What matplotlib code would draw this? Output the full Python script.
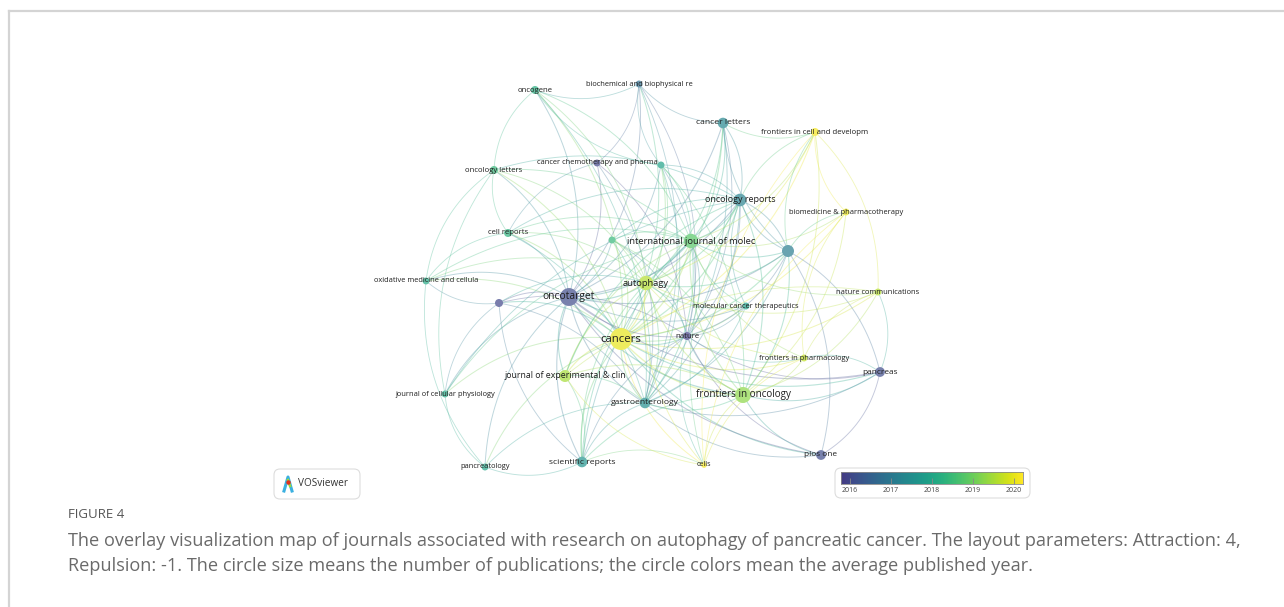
import numpy as np
import matplotlib
matplotlib.use('Agg')
import matplotlib.pyplot as plt
from matplotlib.colors import LinearSegmentedColormap, Normalize
from matplotlib.patches import Circle, FancyBboxPatch

plt.rcParams['font.family'] = ['Open Sans', 'DejaVu Sans']

#journal names (blank = label hidden by VOSviewer)
labels = ['oncogene', 'biochemical and biophysical re', 'cancer letters',
          'frontiers in cell and developm', 'cancer chemotherapy and pharma', '',
          'oncology letters', 'oncology reports', 'biomedicine & pharmacotherapy',
          'cell reports', '', 'international journal of molec', '',
          'oxidative medicine and cellula', 'autophagy', 'nature communications', '',
          'oncotarget', 'molecular cancer therapeutics', 'cancers', 'nature',
          'frontiers in pharmacology', 'pancreas', 'journal of experimental & clin',
          'journal of cellular physiology', 'frontiers in oncology', 'gastroenterology',
          'pancreatology', 'scientific reports', 'cells', 'plos one']

#layout coordinates from the map
node_x = [535, 639, 723, 815, 597, 661, 494, 740, 846, 508, 612, 691, 788, 426, 646, 878,
          499, 569, 746, 621, 687, 804, 880, 565, 445, 743, 645, 485, 582, 704, 821]
node_y = [90, 84, 123, 132, 163, 165, 170, 200, 212, 233, 240, 241, 251, 281, 283, 292,
          303, 297, 306, 339, 336, 358, 372, 376, 394, 395, 403, 467, 462, 465, 455]

#number of publications
pubs = [4, 3, 7, 4, 3, 3, 4, 10, 3, 4, 3, 13, 9, 3, 13, 3,
        4, 20, 3, 30, 4, 3, 6, 9, 3, 16, 7, 3, 7, 2, 6]

#average publication year
avg_year = [2018.2, 2016.8, 2017.3, 2020.1, 2016.0, 2017.9, 2018.4, 2017.2, 2020.0,
            2018.3, 2018.4, 2018.8, 2017.1, 2018.1, 2019.6, 2019.6, 2016.0, 2016.1,
            2017.9, 2020.0, 2015.9, 2019.7, 2016.1, 2019.5, 2018.1, 2019.3, 2017.5,
            2018.0, 2017.6, 2020.1, 2016.1]

#co-citation links (node index pairs)
hub_links = {
    19: [0, 1, 2, 3, 5, 6, 7, 8, 9, 10, 11, 12, 13, 14, 15, 16, 17, 18, 20, 21, 22, 23,
         24, 25, 26, 27, 28, 29, 30],
    17: [0, 1, 2, 4, 5, 6, 7, 9, 10, 11, 12, 13, 14, 16, 18, 20, 22, 23, 24, 25, 26, 27,
         28, 30],
    20: [1, 2, 4, 5, 7, 10, 11, 12, 14, 16, 18, 21, 22, 25, 26, 28, 29, 30],
    26: [0, 1, 2, 4, 5, 7, 9, 10, 11, 12, 14, 16, 18, 22, 23, 25, 27, 28, 30],
    14: [0, 2, 3, 5, 6, 7, 9, 10, 11, 12, 13, 15, 16, 18, 21, 23, 25, 28, 29],
    11: [0, 2, 3, 5, 6, 7, 8, 9, 10, 12, 13, 15, 18, 21, 23, 24, 25, 28],
    25: [3, 5, 7, 8, 10, 12, 15, 21, 22, 23, 28, 29, 30],
    7: [2, 5, 6, 9, 10, 12, 18, 23, 24, 28, 29],
}
extra_links = [(30, 22), (30, 12), (22, 12), (22, 21), (22, 15), (3, 8), (3, 29), (8, 21),
               (8, 29), (15, 21), (15, 3), (0, 1), (0, 6), (6, 9), (6, 13), (9, 13),
               (13, 16), (16, 24), (16, 28), (27, 28), (24, 27), (1, 2), (2, 12), (28, 23),
               (29, 28), (4, 1), (4, 9), (2, 3), (3, 7), (12, 7), (0, 5), (1, 5), (6, 24),
               (13, 27), (3, 12), (8, 12), (15, 23), (21, 29), (23, 29)]

years = [2016, 2017, 2018, 2019, 2020]

links = []
for h in hub_links:
    for j in hub_links[h]:
        if (j, h) not in links:
            links.append((h, j))
links += extra_links

#VOSviewer style viridis
cmap = LinearSegmentedColormap.from_list('vos', plt.cm.viridis(np.linspace(0.17, 1.0, 256)))
norm = Normalize(vmin=2015.78, vmax=2020.22)

def lighten(c, f):
    c = np.array(c[:3])
    return tuple(c + (1 - c) * f)

fig = plt.figure(figsize=(12.84, 6.07), dpi=100)
ax = fig.add_axes([0, 0, 1, 1])
ax.set_xlim(0, 1284)
ax.set_ylim(607, 0)
ax.axis('off')

#frame of the figure panel
ax.plot([9, 1284], [11, 11], color='#d4d4d4', lw=1.6)
ax.plot([9, 9], [11, 607], color='#d4d4d4', lw=1.6)

#curved links
tt = np.linspace(0, 1, 30)
for a, b in links:
    p0 = np.array([node_x[a], node_y[a]], float)
    p2 = np.array([node_x[b], node_y[b]], float)
    d = p2 - p0
    ctrl = (p0 + p2) / 2 + 0.22 * np.array([-d[1], d[0]])
    cx = (1 - tt)**2 * p0[0] + 2 * (1 - tt) * tt * ctrl[0] + tt**2 * p2[0]
    cy = (1 - tt)**2 * p0[1] + 2 * (1 - tt) * tt * ctrl[1] + tt**2 * p2[1]
    col = lighten(cmap(norm((avg_year[a] + avg_year[b]) / 2)), 0.25)
    lw = 0.55 + 0.04 * np.sqrt(pubs[a] * pubs[b]) / 2
    ax.plot(cx, cy, color=col, lw=lw, alpha=0.4, zorder=1, solid_capstyle='round')

#nodes and labels
for i in range(len(labels)):
    r = 2.0 * np.sqrt(pubs[i])
    ax.add_patch(Circle((node_x[i], node_y[i]), r,
                        color=lighten(cmap(norm(avg_year[i])), 0.3), lw=0, zorder=2))
for i in range(len(labels)):
    r = 2.0 * np.sqrt(pubs[i])
    fs = 1.15 * (3.6 + 0.32 * r)
    ax.text(node_x[i], node_y[i], labels[i], fontsize=fs, color='#1e1e1e',
            ha='center', va='center', zorder=3)

#VOSviewer logo box
ax.add_patch(FancyBboxPatch((274, 469), 86, 30, boxstyle='round,pad=0,rounding_size=6',
                            fc='white', ec='#dddddd', lw=0.8, zorder=4))
ax.plot([284, 288, 292], [491, 477, 491], color='#3ab0e0', lw=2.2, zorder=5)
ax.plot([288, 290], [480, 486], color='#9ad83c', lw=1.8, zorder=5)
ax.plot([287.5], [482], 'o', color='#e03020', ms=2.2, zorder=6)
ax.text(298, 484, 'VOSviewer', fontsize=7.2, color='#333333', va='center', ha='left', zorder=5)

#colorbar box
ax.add_patch(FancyBboxPatch((835, 468), 195, 30, boxstyle='round,pad=0,rounding_size=6',
                            fc='white', ec='#dddddd', lw=0.8, zorder=4))
cax = fig.add_axes([841 / 1284, 1 - 484 / 607, 182 / 1284, 12 / 607])
grad = np.linspace(2015.78, 2020.22, 256).reshape(1, -1)
cax.imshow(grad, aspect='auto', cmap=cmap, norm=norm, extent=[2015.78, 2020.22, 0, 1])
cax.set_xlim(2015.78, 2020.22)
cax.set_yticks([])
cax.set_xticks(years)
cax.tick_params(axis='x', direction='in', length=4, width=0.6, color='#888888',
                labelsize=5, labelcolor='#444444', pad=2)
for s in cax.spines.values():
    s.set_color('#888888')
    s.set_linewidth(0.6)

#caption
ax.text(68, 514, 'FIGURE 4', fontsize=9.5, color='#555555', va='center', ha='left')
ax.text(68, 541, 'The overlay visualization map of journals associated with research on '
        'autophagy of pancreatic cancer. The layout parameters: Attraction: 4,',
        fontsize=13.1, color='#6a6a6a', va='center', ha='left')
ax.text(68, 566, 'Repulsion: -1. The circle size means the number of publications; the '
        'circle colors mean the average published year.',
        fontsize=13.1, color='#6a6a6a', va='center', ha='left')

fig.savefig('out.png', dpi=100)
